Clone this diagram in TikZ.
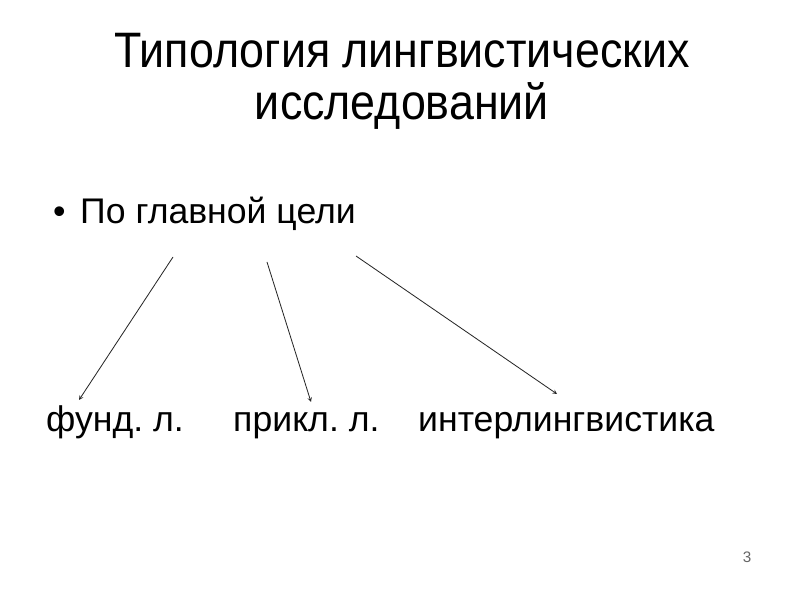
\documentclass[tikz,border=0pt]{standalone}
\usepackage{fontspec}
\setmainfont{Liberation Sans}
\newfontfamily\titlefont[FakeStretch=0.9]{Liberation Sans}
\usetikzlibrary{calc}
\frenchspacing

\tikzset{
  lbl/.style={anchor=base west, inner sep=0pt, font=\fontsize{30.4}{34}\selectfont},
  arr/.style={->, >=stealth, line width=0.7pt, draw=black!85}
}

\begin{document}
\begin{tikzpicture}[x=0.03cm, y=-0.03cm]
\useasboundingbox[fill=white] (0,0) rectangle (800,600); % размер слайда
% заголовок
\node[anchor=base, inner sep=0pt, font=\titlefont\fontsize{42.5}{44}\selectfont] (title1) at (402,68) {Типология лингвистических};
\node[anchor=base, inner sep=0pt, font=\titlefont\fontsize{42.5}{44}\selectfont] (title2) at (402,120) {исследований};
% пункт списка
\node[lbl] (bullet) at (53,224) {\textbullet};
\node[lbl] (goal) at (80,224) {По главной цели};
% три вида
\node[lbl] (fund) at (46,432) {фунд. л.};
\node[lbl] (prikl) at (233,432) {прикл. л.};
\node[lbl] (inter) at (418,432) {интерлингвистика};
\node[font=\fontsize{13}{15}\selectfont, text=black!60] (page) at (747,557) {3};
% начала и концы стрелок
\coordinate (s1) at (173,257);
\coordinate (s2) at (267,262);
\coordinate (s3) at (356,256);
\coordinate (e1) at (79,400);
\coordinate (e2) at (311,402);
\coordinate (e3) at (557,394);
\draw[arr] (s1) -- (e1);
\draw[arr] (s2) -- (e2);
\draw[arr] (s3) -- (e3);
\end{tikzpicture}
\end{document}
